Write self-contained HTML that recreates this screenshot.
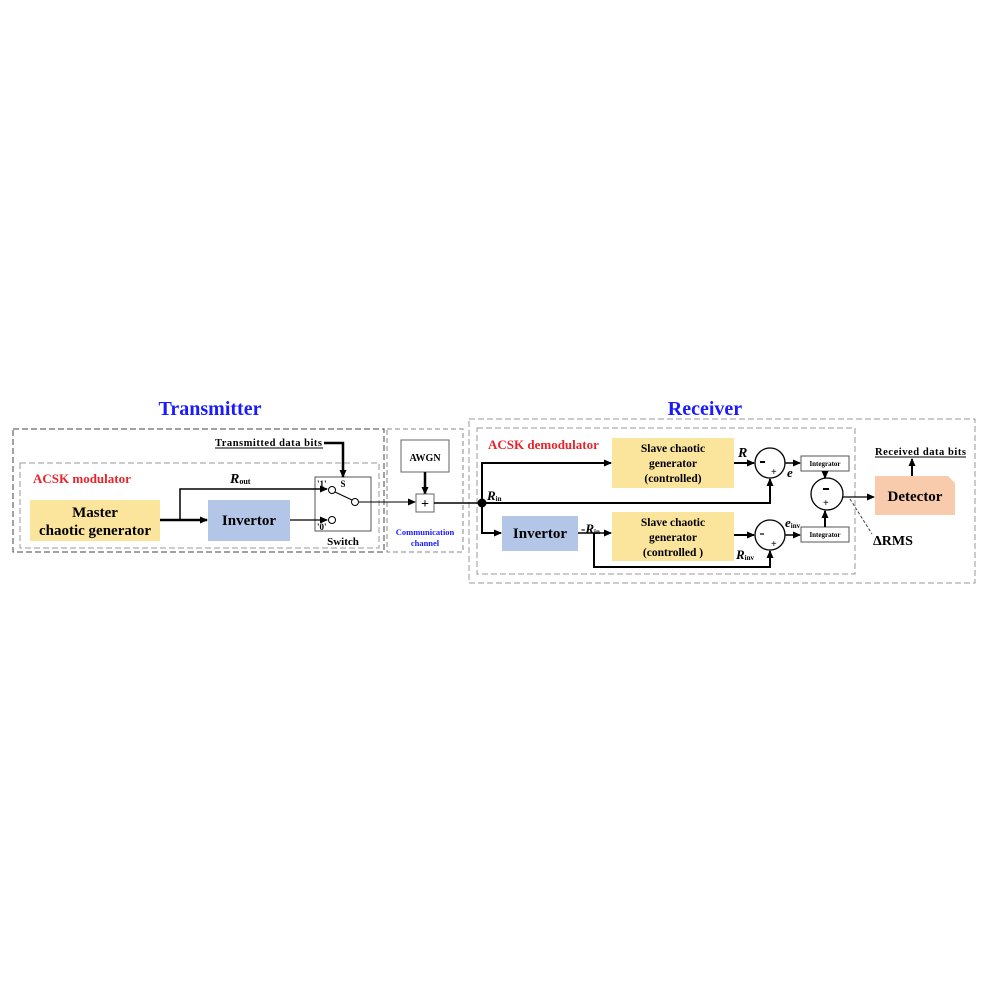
<!DOCTYPE html>
<html><head><meta charset="utf-8"><style>
html,body{margin:0;padding:0;background:#fff;}
svg{display:block;}
text{font-family:"Liberation Serif",serif;font-weight:bold;}
</style></head><body>
<svg width="987" height="987" viewBox="0 0 987 987" xmlns="http://www.w3.org/2000/svg">
<defs>
<marker id="a" markerWidth="8" markerHeight="8" refX="7" refY="4" orient="auto" markerUnits="userSpaceOnUse"><path d="M0,0.5 L8,4 L0,7.5z" fill="#000"/></marker>
</defs>
<text x="210" y="415" font-size="20" fill="#1a1aff" text-anchor="middle">Transmitter</text>
<text x="705" y="415" font-size="20" fill="#1a1aff" text-anchor="middle">Receiver</text>
<rect x="13" y="429" width="371" height="123" fill="none" stroke="#444" stroke-dasharray="6,3"/>
<rect x="20" y="463" width="359" height="85" fill="none" stroke="#999" stroke-dasharray="6,3"/>
<rect x="387" y="429" width="76" height="123" fill="none" stroke="#888" stroke-dasharray="5,3"/>
<rect x="469" y="419" width="506" height="164" fill="none" stroke="#999" stroke-dasharray="6,3"/>
<rect x="477" y="428" width="378" height="146" fill="none" stroke="#999" stroke-dasharray="6,3"/>
<text x="33" y="483" font-size="13" fill="#e8232a">ACSK modulator</text>
<text x="488" y="449" font-size="13" fill="#e8232a">ACSK demodulator</text>
<rect x="30" y="500" width="130" height="41" fill="#fbe49c"/>
<text x="95" y="517" font-size="15" text-anchor="middle">Master</text>
<text x="95" y="535" font-size="15" text-anchor="middle">chaotic generator</text>
<rect x="208" y="500" width="82" height="41" fill="#b4c6e7"/>
<text x="249" y="525" font-size="15" text-anchor="middle">Invertor</text>
<rect x="315" y="477" width="56" height="54" fill="#fff" stroke="#555"/>
<text x="343" y="545" font-size="11" text-anchor="middle">Switch</text>
<text x="343" y="487" font-size="9" text-anchor="middle" font-weight="normal">S</text>
<text x="317" y="487" font-size="9">'1'</text>
<text x="317" y="530" font-size="9">'0'</text>
<circle cx="332" cy="490" r="3.5" fill="#fff" stroke="#000"/>
<circle cx="355" cy="502" r="3.5" fill="#fff" stroke="#000"/>
<circle cx="332" cy="520" r="3.5" fill="#fff" stroke="#000"/>
<line x1="335" y1="492" x2="352" y2="500" stroke="#000"/>
<text x="215" y="446" font-size="10.5" textLength="107">Transmitted data bits</text>
<line x1="215" y1="448" x2="323" y2="448" stroke="#000"/>
<polyline points="324,443 343,443 343,477" fill="none" stroke="#000" stroke-width="2.5" marker-end="url(#a)"/>
<text x="230" y="483" font-size="14" font-style="italic">R<tspan font-size="8" font-style="normal" dy="1">out</tspan></text>
<line x1="160" y1="520" x2="207" y2="520" stroke="#000" stroke-width="2.5" marker-end="url(#a)"/>
<polyline points="180,520 180,489 327,489" fill="none" stroke="#000" stroke-width="1.5" marker-end="url(#a)"/>
<line x1="290" y1="520" x2="327" y2="520" stroke="#000" stroke-width="1.3" marker-end="url(#a)"/>
<rect x="401" y="440" width="48" height="32" fill="#fff" stroke="#666"/>
<text x="425" y="461" font-size="10" text-anchor="middle">AWGN</text>
<line x1="425" y1="472" x2="425" y2="494" stroke="#000" stroke-width="2.5" marker-end="url(#a)"/>
<rect x="416" y="494" width="18" height="18" fill="#fff" stroke="#666"/>
<text x="425" y="508" font-size="14" text-anchor="middle" font-weight="normal">+</text>
<line x1="359" y1="502" x2="415" y2="502" stroke="#000" marker-end="url(#a)"/>
<text x="425" y="535" font-size="8.5" fill="#1a1aff" text-anchor="middle">Communication</text>
<text x="425" y="546" font-size="8.5" fill="#1a1aff" text-anchor="middle">channel</text>
<line x1="434" y1="503" x2="482" y2="503" stroke="#000" stroke-width="1.5"/>
<circle cx="482" cy="503" r="4.5" fill="#000"/>
<text x="487" y="500" font-size="13" font-style="italic">R<tspan font-size="7" font-style="normal" dy="1">in</tspan></text>
<polyline points="482,503 482,463 611,463" fill="none" stroke="#000" stroke-width="2" marker-end="url(#a)"/>
<polyline points="482,503 482,533 501,533" fill="none" stroke="#000" stroke-width="2" marker-end="url(#a)"/>
<polyline points="482,503 770,503 770,479" fill="none" stroke="#000" stroke-width="2" marker-end="url(#a)"/>
<rect x="612" y="438" width="122" height="50" fill="#fbe49c"/>
<text x="673" y="452" font-size="11.5" text-anchor="middle">Slave chaotic</text>
<text x="673" y="467" font-size="11.5" text-anchor="middle">generator</text>
<text x="673" y="482" font-size="11.5" text-anchor="middle">(controlled)</text>
<rect x="502" y="516" width="76" height="35" fill="#b4c6e7"/>
<text x="540" y="538" font-size="15" text-anchor="middle">Invertor</text>
<rect x="612" y="512" width="122" height="49" fill="#fbe49c"/>
<text x="673" y="526" font-size="11.5" text-anchor="middle">Slave chaotic</text>
<text x="673" y="541" font-size="11.5" text-anchor="middle">generator</text>
<text x="673" y="556" font-size="11.5" text-anchor="middle">(controlled )</text>
<text x="581" y="533" font-size="13">-<tspan font-style="italic">R</tspan><tspan font-size="7" dy="1">in</tspan></text>
<line x1="578" y1="533" x2="611" y2="533" stroke="#000" stroke-width="1.5" marker-end="url(#a)"/>
<polyline points="594,533 594,567 770,567 770,551" fill="none" stroke="#000" stroke-width="2" marker-end="url(#a)"/>
<line x1="734" y1="463" x2="754" y2="463" stroke="#000" stroke-width="2" marker-end="url(#a)"/>
<line x1="734" y1="535" x2="754" y2="535" stroke="#000" stroke-width="2" marker-end="url(#a)"/>
<circle cx="770" cy="463" r="15" fill="#fff" stroke="#000" stroke-width="1.3"/>
<circle cx="770" cy="535" r="15" fill="#fff" stroke="#000" stroke-width="1.3"/>
<line x1="760" y1="462" x2="765" y2="462" stroke="#000" stroke-width="2"/><text x="771" y="475" font-size="10" font-weight="normal">+</text>
<line x1="760" y1="534" x2="764" y2="534" stroke="#000" stroke-width="1.2"/><text x="771" y="547" font-size="10" font-weight="normal">+</text>
<text x="738" y="457" font-size="14" font-style="italic">R</text>
<text x="736" y="559" font-size="13" font-style="italic">R<tspan font-size="7" font-style="normal" dy="1">inv</tspan></text>
<text x="787" y="477" font-size="13" font-style="italic">e</text>
<text x="785" y="527" font-size="13" font-style="italic">e<tspan font-size="7" font-style="normal" dy="1">inv</tspan></text>
<line x1="785" y1="463" x2="800" y2="463" stroke="#000" stroke-width="1.5" marker-end="url(#a)"/>
<line x1="785" y1="535" x2="800" y2="535" stroke="#000" stroke-width="1.5" marker-end="url(#a)"/>
<rect x="801" y="456" width="48" height="15" fill="#fff" stroke="#555"/>
<text x="825" y="466" font-size="7" text-anchor="middle">Integrator</text>
<rect x="801" y="527" width="48" height="15" fill="#fff" stroke="#555"/>
<text x="825" y="537" font-size="7" text-anchor="middle">Integrator</text>
<circle cx="827" cy="494" r="16" fill="#fff" stroke="#000" stroke-width="1.3"/>
<line x1="823" y1="489" x2="829" y2="489" stroke="#000" stroke-width="2"/><text x="823" y="506" font-size="10" font-weight="normal">+</text>
<line x1="825" y1="471" x2="825" y2="478" stroke="#000" stroke-width="2" marker-end="url(#a)"/>
<line x1="825" y1="527" x2="825" y2="511" stroke="#000" stroke-width="2" marker-end="url(#a)"/>
<line x1="843" y1="497" x2="874" y2="497" stroke="#000" stroke-width="1.3" marker-end="url(#a)"/>
<path d="M875,476 L948,476 L955,483 L955,515 L875,515z" fill="#f8cbad"/>
<text x="915" y="501" font-size="15" text-anchor="middle">Detector</text>
<line x1="912" y1="476" x2="912" y2="459" stroke="#000" stroke-width="2" marker-end="url(#a)"/>
<text x="875" y="455" font-size="10.5" textLength="91">Received data bits</text>
<line x1="875" y1="457" x2="966" y2="457" stroke="#000"/>
<line x1="850" y1="499" x2="872" y2="534" stroke="#444" stroke-dasharray="3,2"/>
<text x="873" y="545" font-size="14" font-family="Liberation Sans,sans-serif">ΔRMS</text>
</svg>
</body></html>
